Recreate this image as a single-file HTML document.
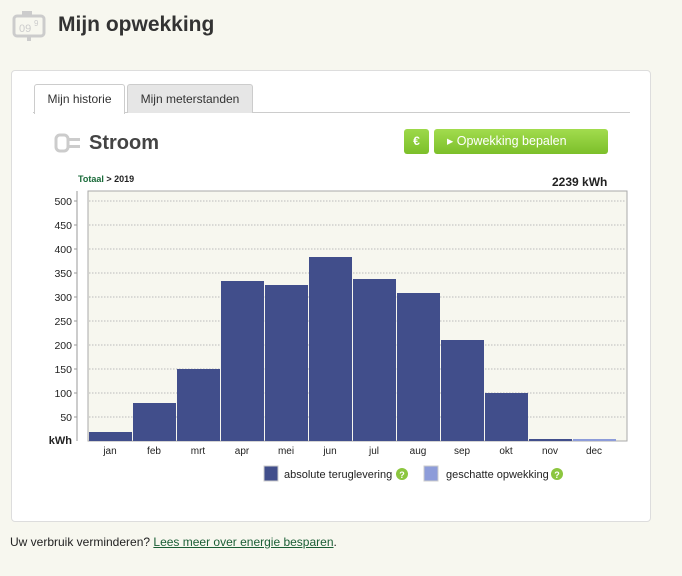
<!DOCTYPE html>
<html><head><style>
body{margin:0;width:682px;height:576px;background:#f7f7ef;font-family:"Liberation Sans",sans-serif;position:relative;overflow:hidden}
.a{position:absolute}
</style></head><body>
<svg class="a" style="left:12px;top:10px" width="36" height="32"><rect x="2" y="6" width="30" height="20" rx="3" fill="none" stroke="#ccc" stroke-width="3"/><rect x="10" y="1" width="10" height="6" fill="#ccc"/><rect x="15" y="26" width="4" height="5" fill="#ccc"/><text x="7" y="22" font-size="11" fill="#ccc" font-family="Liberation Sans">09</text><text x="22" y="16" font-size="8" fill="#ccc">9</text></svg>
<div class="a" style="left:58px;top:13px;font-size:21px;font-weight:bold;color:#333">Mijn opwekking</div>
<div class="a" style="left:11px;top:70px;width:638px;height:450px;background:#fff;border:1px solid #ddd;border-radius:4px"></div>
<div class="a" style="left:33px;top:112px;width:597px;height:1px;background:#ccc"></div>
<div class="a" style="left:34px;top:84px;width:89px;height:29px;background:#fff;border:1px solid #ccc;border-bottom:none;border-radius:3px 3px 0 0;font-size:12px;color:#333;text-align:center;line-height:29px">Mijn historie</div>
<div class="a" style="left:127px;top:84px;width:124px;height:28px;background:#e6e6e6;border:1px solid #ccc;border-bottom:none;border-radius:3px 3px 0 0;font-size:12px;color:#333;text-align:center;line-height:28px">Mijn meterstanden</div>
<svg class="a" style="left:54px;top:133px" width="28" height="20"><rect x="2" y="2" width="12" height="16" rx="4" fill="none" stroke="#ccc" stroke-width="3"/><rect x="14" y="5" width="12" height="3" fill="#ccc"/><rect x="14" y="12" width="12" height="3" fill="#ccc"/></svg>
<div class="a" style="left:89px;top:132px;font-size:20px;font-weight:bold;color:#444">Stroom</div>
<div class="a" style="left:404px;top:129px;width:25px;height:25px;background:linear-gradient(#9dd94a,#7cbf2a);border-radius:3px;color:#fff;font-size:12px;font-weight:bold;text-align:center;line-height:25px">€</div>
<div class="a" style="left:434px;top:129px;width:174px;height:25px;background:linear-gradient(#a2dc4e,#7cbf2a);border-radius:3px;color:#fff;font-size:12.5px;text-align:left;line-height:25px;text-indent:13px">▸ Opwekking bepalen</div>
<div class="a" style="left:78px;top:174px;font-size:9px;font-weight:bold;color:#222"><span style="color:#1a6b3a">Totaal</span> &gt; 2019</div>
<div class="a" style="left:552px;top:175px;font-size:12px;font-weight:bold;color:#222">2239 kWh</div>
<svg class="a" style="left:0;top:0" width="682" height="576" font-family="Liberation Sans" font-size="10.5" fill="#222">
<rect x="88" y="191" width="539" height="250" fill="#f7f7ef" stroke="#aaa"/>
<g stroke="#bbb" stroke-dasharray="1.5,1.5">
<line x1="89" x2="626" y1="201" y2="201"/><line x1="89" x2="626" y1="225" y2="225"/><line x1="89" x2="626" y1="249" y2="249"/><line x1="89" x2="626" y1="273" y2="273"/><line x1="89" x2="626" y1="297" y2="297"/><line x1="89" x2="626" y1="321" y2="321"/><line x1="89" x2="626" y1="345" y2="345"/><line x1="89" x2="626" y1="369" y2="369"/><line x1="89" x2="626" y1="393" y2="393"/><line x1="89" x2="626" y1="417" y2="417"/></g>
<line x1="77" x2="77" y1="191" y2="441" stroke="#999"/>
<g stroke="#999"><line x1="74" x2="77" y1="201" y2="201"/><line x1="74" x2="77" y1="225" y2="225"/><line x1="74" x2="77" y1="249" y2="249"/><line x1="74" x2="77" y1="273" y2="273"/><line x1="74" x2="77" y1="297" y2="297"/><line x1="74" x2="77" y1="321" y2="321"/><line x1="74" x2="77" y1="345" y2="345"/><line x1="74" x2="77" y1="369" y2="369"/><line x1="74" x2="77" y1="393" y2="393"/><line x1="74" x2="77" y1="417" y2="417"/></g>
<g text-anchor="end"><text x="72" y="205">500</text><text x="72" y="229">450</text><text x="72" y="253">400</text><text x="72" y="277">350</text><text x="72" y="301">300</text><text x="72" y="325">250</text><text x="72" y="349">200</text><text x="72" y="373">150</text><text x="72" y="397">100</text><text x="72" y="421">50</text><text x="72" y="444" font-weight="bold" font-size="11">kWh</text></g>
<g fill="#414e8b">
<rect x="89" y="432" width="43" height="9"/><rect x="133" y="403" width="43" height="38"/><rect x="177" y="369" width="43" height="72"/><rect x="221" y="281" width="43" height="160"/><rect x="265" y="285" width="43" height="156"/><rect x="309" y="257" width="43" height="184"/><rect x="353" y="279" width="43" height="162"/><rect x="397" y="293" width="43" height="148"/><rect x="441" y="340" width="43" height="101"/><rect x="485" y="393" width="43" height="48"/><rect x="529" y="439" width="43" height="2"/></g>
<rect x="573" y="439" width="43" height="2" fill="#8d9cd9"/>
<g text-anchor="middle" font-size="10"><text x="110" y="454">jan</text><text x="154" y="454">feb</text><text x="198" y="454">mrt</text><text x="242" y="454">apr</text><text x="286" y="454">mei</text><text x="330" y="454">jun</text><text x="374" y="454">jul</text><text x="418" y="454">aug</text><text x="462" y="454">sep</text><text x="506" y="454">okt</text><text x="550" y="454">nov</text><text x="594" y="454">dec</text></g>
<rect x="264" y="466" width="14" height="15" fill="#414e8b" stroke="#ccc"/>
<text x="284" y="478" font-size="11">absolute teruglevering</text>
<circle cx="402" cy="474" r="6" fill="#8cc63f"/><text x="402" y="478" font-size="9" fill="#fff" text-anchor="middle" font-weight="bold">?</text>
<rect x="424" y="466" width="14" height="15" fill="#8d9cd9" stroke="#ccc"/>
<text x="446" y="478" font-size="11">geschatte opwekking</text>
<circle cx="557" cy="474" r="6" fill="#8cc63f"/><text x="557" y="478" font-size="9" fill="#fff" text-anchor="middle" font-weight="bold">?</text>
</svg>
<div class="a" style="left:10px;top:535px;font-size:12px;color:#222">Uw verbruik verminderen? <span style="color:#1a5e35;text-decoration:underline">Lees meer over energie besparen</span>.</div>
</body></html>
